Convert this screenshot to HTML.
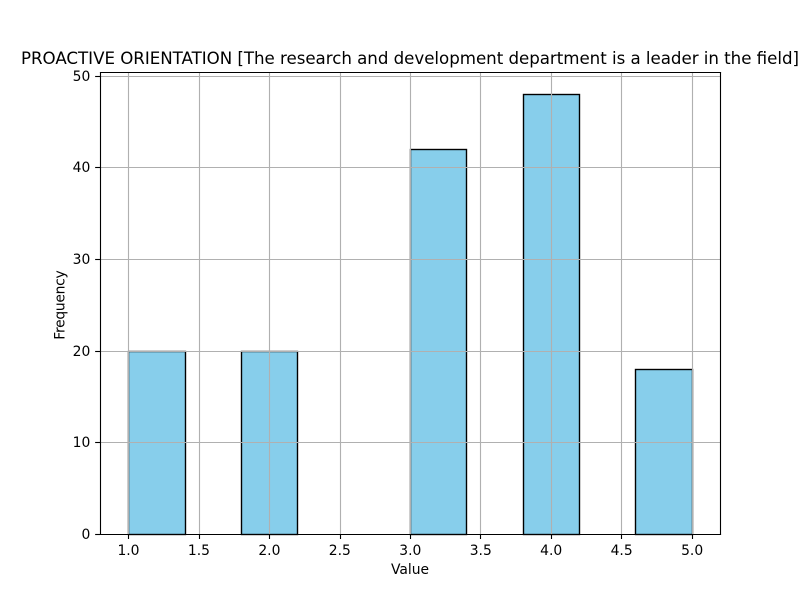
<!DOCTYPE html>
<html>
<head>
<meta charset="utf-8">
<title>Histogram</title>
<style>
html,body{margin:0;padding:0;background:#fff;}
svg{display:block;}
text{font-family:"DejaVu Sans",sans-serif;fill:#000;}
</style>
</head>
<body>
<svg id="chart" xmlns="http://www.w3.org/2000/svg" width="800" height="600" viewBox="0 0 800 600">
<rect x="0" y="0" width="800" height="600" fill="#ffffff"/>
<text x="410" y="64" text-anchor="middle" font-size="16.67" textLength="778" lengthAdjust="spacing">PROACTIVE ORIENTATION [The research and development department is a leader in the field]</text>
<text x="410" y="574" text-anchor="middle" font-size="13.89">Value</text>
<text transform="translate(64.5,305) rotate(-90)" text-anchor="middle" font-size="13.89" textLength="69.5" lengthAdjust="spacing">Frequency</text>
<g id="bars"></g>
<g id="grid"></g>
<g id="ticks"></g>
<g id="spines"></g>
</svg>
<script>
const binEdges = [1.0, 1.4, 1.8, 2.2, 2.6, 3.0, 3.4, 3.8, 4.2, 4.6, 5.0];
const binCounts = [20, 0, 20, 0, 0, 42, 0, 48, 0, 18];
const xTicks = [1.0, 1.5, 2.0, 2.5, 3.0, 3.5, 4.0, 4.5, 5.0];
const yTicks = [0, 10, 20, 30, 40, 50];

const plotLeft = 100, plotRight = 720, plotTop = 72, plotBottom = 534;
const xMin = 0.8, xMax = 5.2, yMin = 0, yMax = 50.4;
const NS = 'http://www.w3.org/2000/svg';

function xScale(v) { return plotLeft + (v - xMin) / (xMax - xMin) * (plotRight - plotLeft); }
function yScale(v) { return plotBottom - (v - yMin) / (yMax - yMin) * (plotBottom - plotTop); }
function snap(p) { return Math.floor(p + 0.5) + 0.5; }
function makeLine(parent, x1, y1, x2, y2, color, width) {
  const l = document.createElementNS(NS, 'line');
  l.setAttribute('x1', x1);
  l.setAttribute('y1', y1);
  l.setAttribute('x2', x2);
  l.setAttribute('y2', y2);
  l.setAttribute('stroke', color);
  l.setAttribute('stroke-width', width);
  l.setAttribute('stroke-linecap', 'square');
  parent.appendChild(l);
  return l;
}

const barsG = document.getElementById('bars');
binCounts.forEach(function (count, i) {
  const x0 = snap(xScale(binEdges[i]));
  const x1 = snap(xScale(binEdges[i + 1]));
  const y0 = snap(yScale(count));
  const y1 = snap(yScale(0));
  const r = document.createElementNS(NS, 'rect');
  
  
  r.setAttribute('x', x0);
  r.setAttribute('y', y0);
  r.setAttribute('width', x1 - x0);
  r.setAttribute('height', y1 - y0);
  r.setAttribute('fill', '#87ceeb');
  r.setAttribute('stroke', '#000000');
  r.setAttribute('stroke-width', '1.39');
  barsG.appendChild(r);
});

const gridG = document.getElementById('grid');
const ticksG = document.getElementById('ticks');

xTicks.forEach(function (v) {
  const px = snap(xScale(v));
  const g = makeLine(gridG, px, plotTop, px, plotBottom, '#b0b0b0', 1.11);
  g.setAttribute('stroke-linecap', 'butt');
  
  
  const t = makeLine(ticksG, px, plotBottom, px, plotBottom + 5, '#000000', 1.11);
  t.setAttribute('stroke-linecap', 'butt');
  
  
  const lab = document.createElementNS(NS, 'text');
  
  
  lab.setAttribute('x', xScale(v) + 0.3);
  lab.setAttribute('y', 555);
  lab.setAttribute('text-anchor', 'middle');
  lab.setAttribute('font-size', '13.89');
  lab.textContent = v.toFixed(1);
  ticksG.appendChild(lab);
});

yTicks.forEach(function (v) {
  const py = snap(yScale(v));
  const g = makeLine(gridG, plotLeft, py, plotRight, py, '#b0b0b0', 1.11);
  g.setAttribute('stroke-linecap', 'butt');
  
  
  const t = makeLine(ticksG, plotLeft - 4.86, py, plotLeft, py, '#000000', 1.11);
  t.setAttribute('stroke-linecap', 'butt');
  
  
  const lab = document.createElementNS(NS, 'text');
  
  
  lab.setAttribute('x', plotLeft - 9.7);
  lab.setAttribute('y', Math.floor(yScale(v) + 0.5) + 5);
  lab.setAttribute('text-anchor', 'end');
  lab.setAttribute('font-size', '13.89');
  lab.textContent = String(v);
  ticksG.appendChild(lab);
});

const spinesG = document.getElementById('spines');
const spineDefs = [
  ['spine-left', plotLeft + 0.5, plotTop + 0.5, plotLeft + 0.5, plotBottom + 0.5],
  ['spine-right', plotRight + 0.5, plotTop + 0.5, plotRight + 0.5, plotBottom + 0.5],
  ['spine-top', plotLeft + 0.5, plotTop + 0.5, plotRight + 0.5, plotTop + 0.5],
  ['spine-bottom', plotLeft + 0.5, plotBottom + 0.5, plotRight + 0.5, plotBottom + 0.5]
];
spineDefs.forEach(function (d) {
  const s = makeLine(spinesG, d[1], d[2], d[3], d[4], '#000000', 1.11);
  
  
});
</script>
</body>
</html>
